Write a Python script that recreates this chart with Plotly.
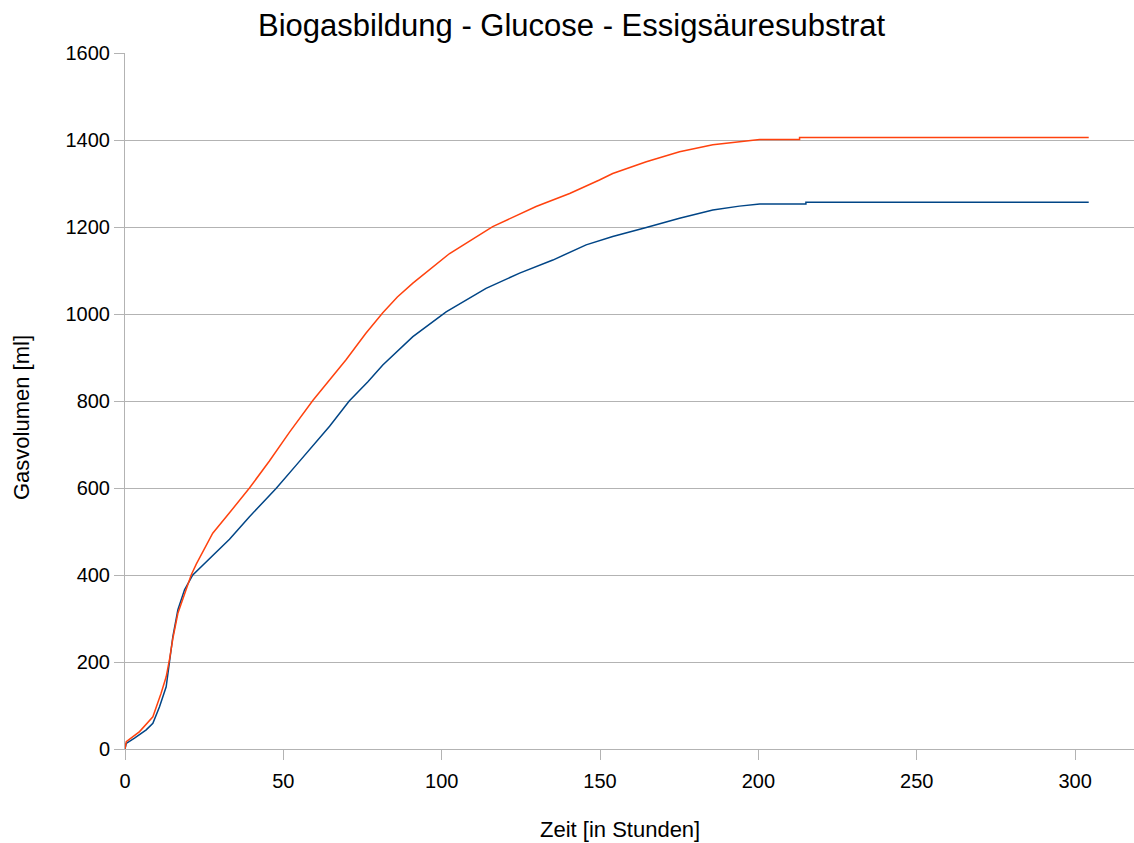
import plotly.graph_objects as go

# Glucose series (orange)
t_glucose = [0, 0.4, 4.6, 8.8, 11.4, 13, 14.1, 15.1, 16.7, 18.8, 20.9, 22.5,
             27.7, 33, 39.3, 45.6, 48.8, 51.9, 59.3, 66.7, 69.8, 76, 81.4, 86, 90.9, 102.5, 116.1, 129.8,
             140.4, 149.8, 154, 164.6, 175.1, 185.6, 194.6, 200.4, 213, 213, 304.3]
v_glucose = [0, 17, 40, 74, 128, 166, 208, 254, 312, 358, 400, 425,
             496, 543, 600, 662, 697, 728, 801, 866, 895, 955, 1003, 1039, 1071, 1139, 1201, 1247,
             1277, 1308, 1323, 1350, 1373, 1389, 1397, 1401, 1401, 1406, 1406]

# Essigsäure series (blue)
t_essig = [0, 0.4, 3, 6.7, 8.8, 10.9, 13, 14.1, 15.1, 16.7, 18.8, 21.4, 25.6,
           33, 39.3, 47.7, 54, 59.3, 64.6, 70.8, 76.7, 81.4, 90.9, 101.4, 114,
           124.6, 135.1, 145.6, 154, 164.6, 175.1, 185.6, 194, 200.4, 215, 215, 304.3]
v_essig = [0, 13, 25, 44, 59, 97, 143, 201, 258, 320, 366, 400, 430,
           482, 534, 599, 652, 697, 742, 800, 844, 883, 948, 1005, 1059,
           1094, 1124, 1159, 1178, 1199, 1220, 1239, 1248, 1253, 1253, 1257, 1257]

y_ticks = [0, 200, 400, 600, 800, 1000, 1200, 1400, 1600]
x_ticks = [0, 50, 100, 150, 200, 250, 300]

W, H = 1134, 843
L, R, T, B = 125, 0, 53, 94

def px_x(p):
    return (p - L) / (W - L - R)

def px_y(p):
    return (H - B - p) / (H - T - B)

fig = go.Figure()
fig.add_trace(go.Scatter(x=t_essig, y=v_essig, mode="lines",
                         line=dict(color="#004586", width=1.5), name="Essigsäure"))
fig.add_trace(go.Scatter(x=t_glucose, y=v_glucose, mode="lines",
                         line=dict(color="#ff420e", width=1.5), name="Glucose"))

font = "Liberation Sans, Arial, sans-serif"
fig.update_layout(
    width=W, height=H,
    margin=dict(l=L, r=R, t=T, b=B),
    paper_bgcolor="white", plot_bgcolor="white",
    showlegend=False,
    font=dict(family=font, color="black", size=20),
    xaxis=dict(range=[0, (W - L - R) / 3.167], tickvals=x_ticks, showgrid=False,
               zeroline=False, showline=True, linecolor="#b3b3b3", linewidth=1,
               ticks="outside", ticklen=10, tickcolor="#b3b3b3", tickfont=dict(size=20),
               ticklabelstandoff=4),
    yaxis=dict(range=[0, 1600], tickvals=y_ticks, showgrid=True, gridcolor="#b3b3b3",
               gridwidth=1, zeroline=False, showline=True, linecolor="#b3b3b3", linewidth=1,
               ticks="outside", ticklen=10, tickcolor="#b3b3b3", tickfont=dict(size=20)),
    annotations=[
        dict(text="Biogasbildung - Glucose - Essigsäuresubstrat", xref="paper", yref="paper",
             x=px_x(572), y=px_y(25), showarrow=False, font=dict(size=31),
             xanchor="center", yanchor="middle"),
        dict(text="Gasvolumen [ml]", xref="paper", yref="paper", x=px_x(22), y=px_y(418),
             showarrow=False, textangle=-90, font=dict(size=22), xanchor="center", yanchor="middle"),
        dict(text="Zeit [in Stunden]", xref="paper", yref="paper", x=px_x(620), y=px_y(829),
             showarrow=False, font=dict(size=22), xanchor="center", yanchor="middle"),
    ],
)

fig.write_html("out.html")
